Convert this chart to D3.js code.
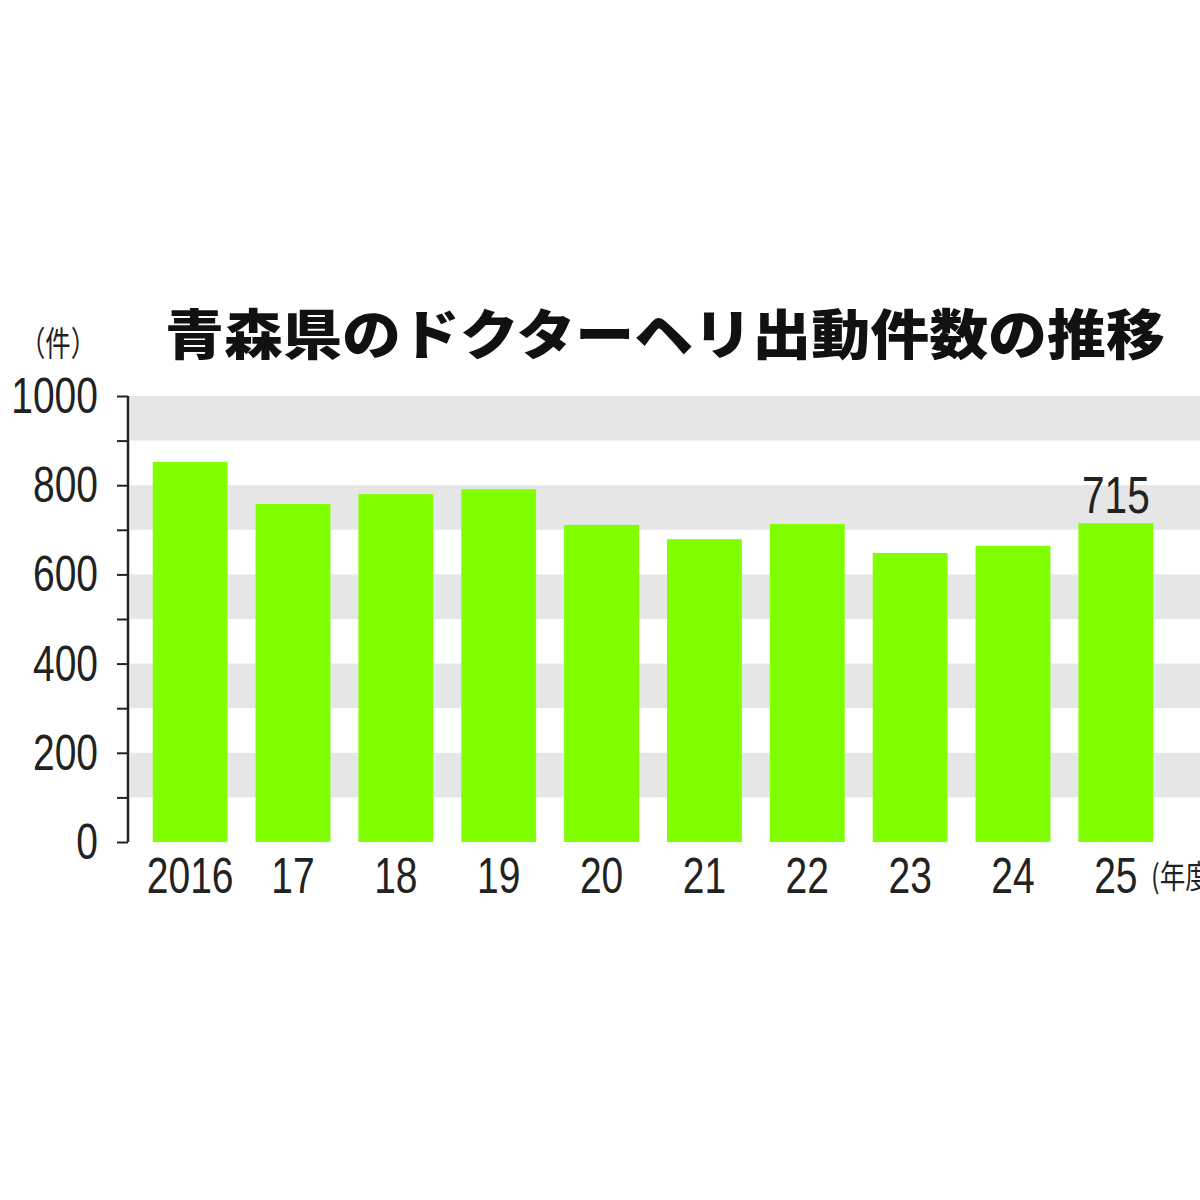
<!DOCTYPE html><html><head><meta charset="utf-8">
<script src="https://cdn.jsdelivr.net/npm/d3@7"></script>
<style>body{margin:0;background:#fff}</style></head><body>
<svg id="c" width="1200" height="1200"></svg>
<script>
const categories=["2016","17","18","19","20","21","22","23","24","25"];
const values=[852,758,780,791,711,679,713,648,664,715];
const yTicks=[0,200,400,600,800,1000];
const bands=[[100,200],[300,400],[500,600],[700,800],[900,1000]];
const svg=d3.select("#c");
const num="'Liberation Sans','DejaVu Sans',sans-serif";
const y=d3.scaleLinear().domain([0,1000]).range([842,396]);
const x=d3.scaleBand().domain(categories).range([127,1179]).paddingInner(0.272).paddingOuter(0.25);
svg.selectAll("rect.band").data(bands).join("rect").attr("x",130).attr("width",1070)
 .attr("y",d=>y(d[1])).attr("height",d=>y(d[0])-y(d[1])).attr("fill","#e6e6e6");
svg.selectAll("rect.bar").data(values).join("rect").attr("x",(d,i)=>x(categories[i])).attr("width",x.bandwidth())
 .attr("y",d=>y(d)).attr("height",d=>842-y(d)).attr("fill","#80ff00");
const ax=svg.append("g").attr("transform","translate(128,0)")
 .call(d3.axisLeft(y).tickValues(d3.range(0,1001,100)).tickSize(11).tickFormat(""));
ax.select(".domain").attr("stroke","#222").attr("stroke-width",2.5).attr("d","M0,396V842");
ax.selectAll("line").attr("stroke","#222").attr("stroke-width",2);
function nt(sel,anchor,size){return sel.attr("text-anchor",anchor).attr("font-family",num).attr("font-size",size).attr("fill","#222");}
nt(svg.selectAll("text.yt").data(yTicks).join("text")
 .attr("transform",d=>`translate(98,${y(d)+17}) scale(0.78,1)`),"end",50).text(d=>d);
nt(svg.selectAll("text.xt").data(categories).join("text")
 .attr("transform",d=>`translate(${x(d)+x.bandwidth()/2},893) scale(0.78,1)`),"middle",50).text(d=>d);
nt(svg.append("text").attr("transform","translate(1151,888) scale(0.8,1)"),"start",32)
 .attr("font-family","'Noto Sans CJK JP'").text("(年度)");
nt(svg.append("text").attr("transform",`translate(${x("25")+x.bandwidth()/2},513) scale(0.78,1)`),"middle",52).text(values[9]);
svg.append("text").attr("x",165).attr("y",355).attr("font-family","'Noto Sans CJK JP'").attr("textLength",1000)
 .attr("lengthAdjust","spacingAndGlyphs").attr("font-weight",900).attr("font-size",54).attr("fill","#111").text("青森県のドクターヘリ出動件数の推移");
svg.append("text").attr("x",20).attr("y",356).attr("font-family","'Noto Sans CJK JP'").attr("textLength",76)
 .attr("lengthAdjust","spacingAndGlyphs").attr("font-size",34).attr("fill","#222").text("（件）");
</script></body></html>
